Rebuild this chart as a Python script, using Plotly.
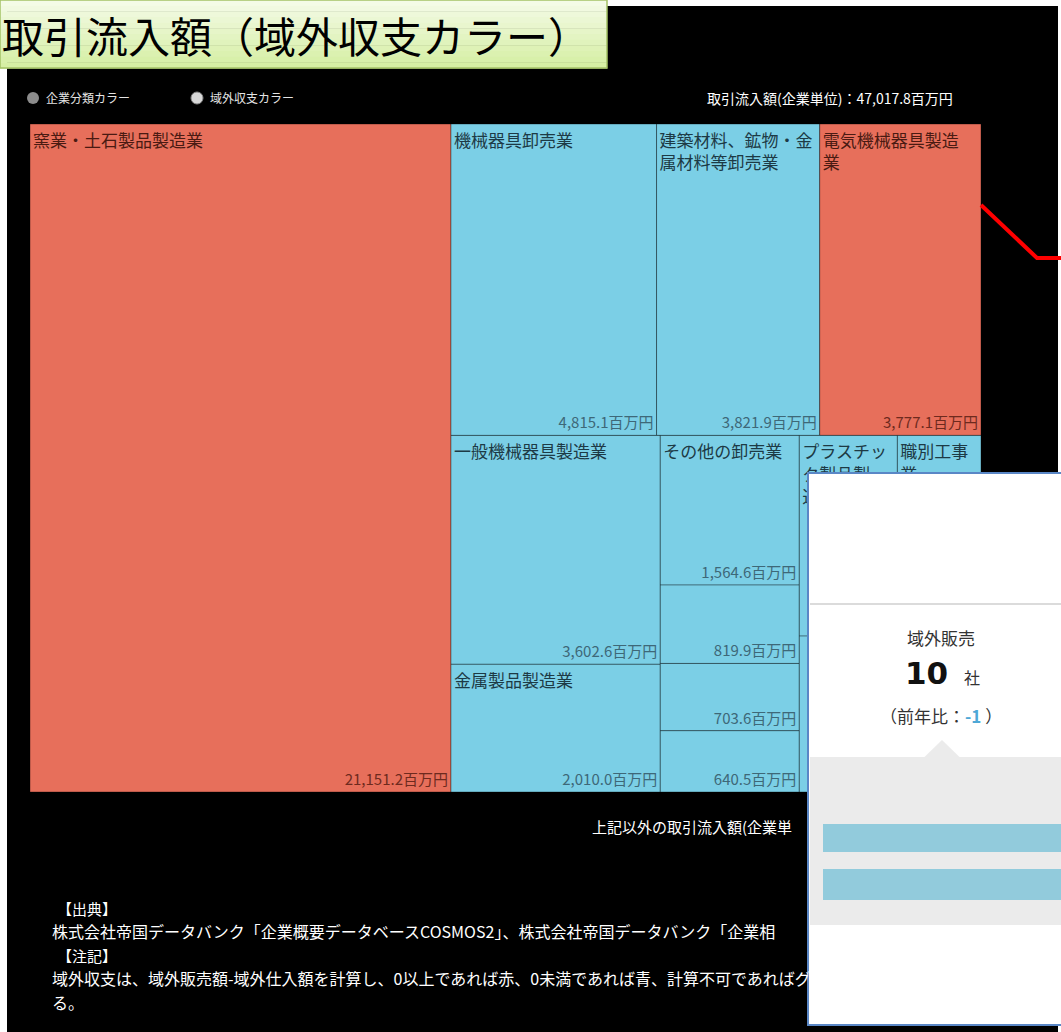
import plotly.graph_objects as go

W, H = 1061, 1032
FONT = "Noto Sans CJK JP"

# ---------------- data ----------------
industries = [
    "窯業・土石製品製造業", "機械器具卸売業", "建築材料、鉱物・金属材料等卸売業", "電気機械器具製造業",
    "一般機械器具製造業", "金属製品製造業", "その他の卸売業", "輸送用機械器具製造業",
    "飲食料品卸売業", "総合工事業", "プラスチック製品製造業", "職別工事業", "化学工業", "その他の製造業",
]
tile_labels = [
    "窯業・土石製品製造業", "機械器具卸売業", "建築材料、鉱物・金<br>属材料等卸売業", "電気機械器具製造<br>業",
    "一般機械器具製造業", "金属製品製造業", "その他の卸売業", "", "", "",
    "プラスチッ<br>ク製品製<br>造業", "職別工事<br>業", "", "",
]
inflow = [21151.2, 4815.1, 3821.9, 3777.1, 3602.6, 2010.0, 1564.6, 819.9, 703.6, 640.5,
          1480.2, 1262.1, 1162.7, 968.5]          # 百万円 (last four hidden under the popup: estimates)
value_visible = [1, 1, 1, 1, 1, 1, 1, 1, 1, 1, 0, 0, 0, 0]
balance_sign = [1, -1, -1, 1, -1, -1, -1, -1, -1, -1, -1, -1, -1, -1]   # 域外収支 (+:赤, -:青)
block = ["root", "g2", "g2", "g2", "g4", "g4", "g5", "g5", "g5", "g5", "g7", "g7", "g8", "g8"]
groups = ["g1", "g2", "g3", "g4", "g5", "g6", "g7", "g8"]
group_parent = ["root", "g1", "g1", "g3", "g3", "g3", "g6", "g6"]

legend_items = ["企業分類カラー", "域外収支カラー"]
header_total = 47017.8
total_label = "取引流入額(企業単位)：{:,.1f}百万円".format(header_total)

# ---------------- styling ----------------
RED, BLUE = "#e76f5b", "#7bcfe6"
CLEAR = "rgba(0,0,0,0)"
n_g = len(groups)

ids = ["root"] + industries + groups
parents = [""] + block + group_parent
labels = [""] + industries + [""] * n_g
values = [0] + inflow + [0] * n_g
fill = [CLEAR] + [RED if s > 0 else BLUE for s in balance_sign] + [CLEAR] * n_g
line_w = [0] + [1] * len(industries) + [0] * n_g
label_txt = [""] + tile_labels + [""] * n_g
value_txt = [""] + ["{:,.1f}百万円".format(v) if vis else "" for v, vis in zip(inflow, value_visible)] + [""] * n_g
label_col = ["#000"] + ["#4a1a12" if s > 0 else "#1d3a45" for s in balance_sign] + ["#000"] * n_g
value_col = ["#000"] + ["#6e2a1e" if s > 0 else "#3e6878" for s in balance_sign] + ["#000"] * n_g

dom = dict(x=[30 / W, 981 / W], y=[1 - 792 / H, 1 - 124 / H])
common = dict(ids=ids, labels=labels, parents=parents, values=values, branchvalues="remainder",
              sort=False, tiling=dict(packing="slice-dice", pad=0), pathbar=dict(visible=False),
              root=dict(color=CLEAR), domain=dom, hoverinfo="none", texttemplate="%{text}")

fig = go.Figure()
fig.add_trace(go.Treemap(
    text=label_txt, textposition="top left",
    textfont=dict(family=FONT, size=17, color=label_col),
    marker=dict(colors=fill, line=dict(width=line_w, color="rgba(0,0,0,0.35)"),
                pad=dict(t=0, l=0, r=0, b=0)),
    **common))
fig.add_trace(go.Treemap(
    text=value_txt, textposition="bottom right",
    textfont=dict(family=FONT, size=15, color=value_col),
    marker=dict(colors=[CLEAR] * len(ids), line=dict(width=0, color=CLEAR),
                pad=dict(t=0, l=0, r=0, b=0)),
    **common))


def px(x):
    return x / W


def py(y):
    return 1 - y / H


def rect(x0, y0, x1, y1, fill, line_color=None, lw=0, layer="above"):
    return dict(type="rect", xref="paper", yref="paper", x0=px(x0), x1=px(x1), y0=py(y1), y1=py(y0),
                fillcolor=fill, line=dict(color=line_color or fill, width=lw), layer=layer)


def path(points, fill=None, color="red", lw=0, layer="above", closed=False):
    d = "M " + " L ".join("{:.5f},{:.5f}".format(px(a), py(b)) for a, b in points)
    if closed:
        d += " Z"
    s = dict(type="path", xref="paper", yref="paper", path=d, layer=layer,
             line=dict(color=color, width=lw))
    if fill:
        s["fillcolor"] = fill
    return s


def ann(x, y, text, size, color="#ffffff", xanchor="left", family=FONT):
    return dict(x=px(x), y=py(y), xref="paper", yref="paper", text=text, showarrow=False,
                xanchor=xanchor, yanchor="middle", font=dict(family=family, size=size, color=color))


shapes = [rect(7, 6, 1058, H, "#000000", layer="below")]
# title box with soft green gradient
top_c, bot_c = (244, 251, 230), (214, 239, 164)
nb = 12
for i in range(nb):
    t = i / (nb - 1)
    c = tuple(int(top_c[k] + (bot_c[k] - top_c[k]) * t) for k in range(3))
    shapes.append(rect(0, 68 * i / nb, 607, 68 * (i + 1) / nb + 0.5, "rgb({},{},{})".format(*c), layer="below"))
shapes.append(rect(0, 0, 607, 68, CLEAR, line_color="#a4c266", lw=1.5, layer="below"))
# legend dots
shapes.append(dict(type="circle", xref="paper", yref="paper", x0=px(27), x1=px(39), y0=py(104), y1=py(92),
                   fillcolor="#8c8c8c", line=dict(color="#8c8c8c", width=0), layer="below"))
shapes.append(dict(type="circle", xref="paper", yref="paper", x0=px(191), x1=px(203), y0=py(104), y1=py(92),
                   fillcolor="#d8d8d8", line=dict(color="#888888", width=1), layer="below"))
# red callout line
shapes.append(path([(981, 205), (1037, 258), (1062, 258)], color="#ff0000", lw=4))
# tooltip
shapes.append(rect(808, 473, 1075, 1025, "#ffffff", line_color="#5a87c6", lw=2))
shapes.append(path([(810, 604), (1061, 604)], color="#cfcfcf", lw=1.5))
shapes.append(rect(810, 757, 1061, 925, "#ebebeb"))
shapes.append(path([(924, 757.5), (942, 740), (960, 757.5)], fill="#ebebeb", color="#ebebeb", lw=0, closed=True))
shapes.append(rect(823, 824, 1061, 852, "#92cbdc"))
shapes.append(rect(823, 869, 1061, 900, "#92cbdc"))

annotations = [
    ann(0, 34, "取引流入額（域外収支カラー）", 42, color="#000000"),
    ann(44, 98, legend_items[0], 12, color="#e4e4e4"),
    ann(208, 98, legend_items[1], 12, color="#e4e4e4"),
    ann(955, 98, total_label, 14, xanchor="right"),
    ann(590, 826, "上記以外の取引流入額(企業単", 15),
    ann(55, 908, "【出典】", 15),
    ann(50, 931, "株式会社帝国データバンク「企業概要データベースCOSMOS2」、株式会社帝国データバンク「企業相", 16),
    ann(55, 955, "【注記】", 15),
    ann(50, 978, "域外収支は、域外販売額-域外仕入額を計算し、0以上であれば赤、0未満であれば青、計算不可であればグ", 16),
    ann(50, 1002, "る。", 16),
    # tooltip texts
    ann(941, 637, "域外販売", 17, color="#333333", xanchor="center"),
    ann(926, 673, "<b>10</b>", 31, color="#111111", xanchor="center", family="DejaVu Sans"),
    ann(972, 677, "社", 16, color="#333333", xanchor="center"),
    ann(941, 715, "（前年比：<b><span style='color:#4ea8d6'>-1</span></b> ）", 17, color="#333333",
        xanchor="center"),
]

fig.update_layout(
    width=W, height=H, margin=dict(l=0, r=0, t=0, b=0),
    paper_bgcolor="#ffffff", plot_bgcolor="#ffffff",
    shapes=shapes, annotations=annotations, showlegend=False,
)

fig.write_html("out.html", config={"displayModeBar": False},
               post_script="document.body.style.margin='0';document.body.style.overflow='hidden';")
